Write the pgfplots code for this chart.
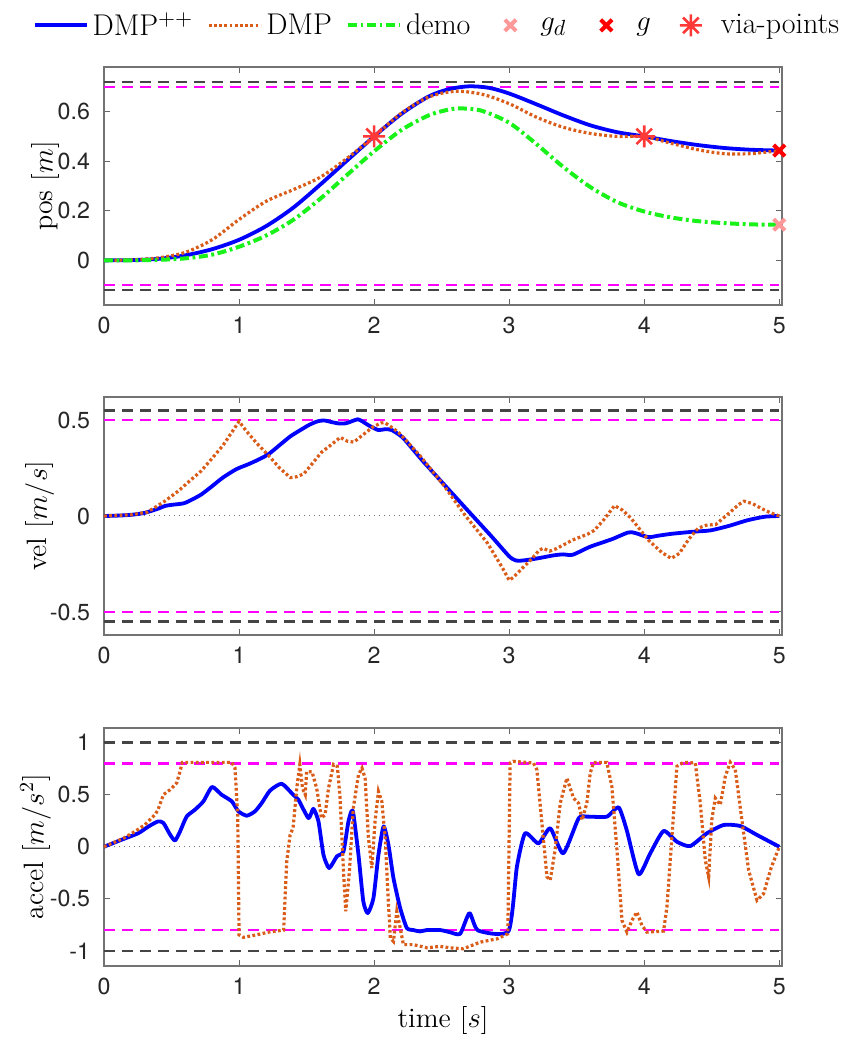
\documentclass[border=0pt]{standalone}
\usepackage{fontspec}
\newfontfamily\heros{TeX Gyre Heros}
\usepackage{pgfplots}
\pgfplotsset{compat=1.18}

\definecolor{dmpblue}{rgb}{0,0,1}
\definecolor{dmporange}{rgb}{0.85,0.36,0.1}
\definecolor{demogreen}{rgb}{0.1,0.95,0.1}
\definecolor{limgray}{rgb}{0.27,0.27,0.27}
\definecolor{limmag}{rgb}{1,0,1}
\definecolor{gdpink}{rgb}{1,0.6,0.6}
\definecolor{gred}{rgb}{1,0,0}
\definecolor{viared}{rgb}{1,0.22,0.22}

\pgfdeclareplotmark{star8}{%
  \pgfpathmoveto{\pgfqpoint{0pt}{\pgfplotmarksize}}%
  \pgfpathlineto{\pgfqpoint{0pt}{-\pgfplotmarksize}}%
  \pgfpathmoveto{\pgfqpoint{\pgfplotmarksize}{0pt}}%
  \pgfpathlineto{\pgfqpoint{-\pgfplotmarksize}{0pt}}%
  \pgfpathmoveto{\pgfqpoint{0.7071\pgfplotmarksize}{0.7071\pgfplotmarksize}}%
  \pgfpathlineto{\pgfqpoint{-0.7071\pgfplotmarksize}{-0.7071\pgfplotmarksize}}%
  \pgfpathmoveto{\pgfqpoint{0.7071\pgfplotmarksize}{-0.7071\pgfplotmarksize}}%
  \pgfpathlineto{\pgfqpoint{-0.7071\pgfplotmarksize}{0.7071\pgfplotmarksize}}%
  \pgfusepathqstroke}

\pgfplotsset{
  panel/.style={
    scale only axis, width=339pt, height=119pt,
    xmin=0, xmax=5.02,
    xtick={0,1,2,3,4,5}, xticklabels={0,1,2,3,4,5},
    tick align=inside, xtick pos=both, ytick pos=both,
    major tick length=3pt,
    axis line style={black!55, line width=0.6pt},
    every tick/.style={black!60, line width=0.5pt},
    tick label style={font=\heros\fontsize{11.6}{14}\selectfont, text=black!85},
    xticklabel style={yshift=-2.5pt},
    yticklabel style={xshift=-3.5pt},
    label style={font=\fontsize{14}{16}\selectfont},
    clip=false,
  },
  lim/.style={line width=1.1pt, dash pattern=on 5.5pt off 3.5pt},
  zero/.style={black!55, line width=0.5pt, dash pattern=on 0.5pt off 2pt},
  blu/.style={dmpblue, line width=1.9pt, line join=round},
  ora/.style={dmporange, line width=1.6pt, dash pattern=on 1.4pt off 1.2pt},
  gre/.style={demogreen, line width=2pt, dash pattern=on 4.5pt off 1.8pt on 1.4pt off 1.8pt},
  lineleg/.style={legend image code/.code={\draw[##1] (0pt,0pt) -- (26pt,0pt);}},
  markleg/.style={legend image code/.code={\path[draw=none,fill=none] (0pt,-0.5pt) rectangle (26pt,0.5pt);\draw[mark repeat=2,mark phase=2,##1] plot coordinates {(0pt,0pt) (13pt,0pt) (26pt,0pt)};}},
}

\begin{document}
\begin{tikzpicture}
\useasboundingbox (0,0) rectangle (429pt,518.5pt);

% ---------------- position ----------------
\begin{axis}[panel, at={(52pt,366pt)}, anchor=south west,
  ymin=-0.18, ymax=0.78,
  ytick={0,0.2,0.4,0.6}, yticklabels={0,0.2,0.4,0.6},
  ylabel={pos [$m$]},
  ylabel style={at={(axis description cs:-0.086,0.5)}, anchor=center},
  legend style={at={(axis description cs:0.4926,1.175)}, anchor=center,
    draw=none, fill=none, legend columns=6, inner sep=0pt,
    font=\fontsize{15}{18}\selectfont,
    /tikz/every even column/.append style={column sep=5pt}},
  legend cell align=left,
]
\addplot[limgray, lim, forget plot] coordinates {(0,0.72) (5,0.72)};
\addplot[limmag, lim, forget plot] coordinates {(0,0.70) (5,0.70)};
\addplot[limmag, lim, forget plot] coordinates {(0,-0.10) (5,-0.10)};
\addplot[limgray, lim, forget plot] coordinates {(0,-0.12) (5,-0.12)};

\addplot[blu, smooth, tension=0.5, lineleg] coordinates {
(0,0) (0.2,0.001) (0.4,0.006) (0.6,0.02) (0.8,0.045) (1.0,0.083) (1.2,0.138) (1.4,0.212) (1.6,0.305) (1.8,0.403) (2.0,0.5) (2.2,0.59) (2.4,0.66) (2.55,0.69) (2.7,0.702) (2.85,0.696) (3.0,0.673) (3.2,0.63) (3.4,0.585) (3.6,0.545) (3.8,0.517) (4.0,0.5) (4.2,0.481) (4.4,0.465) (4.6,0.453) (4.8,0.446) (5.0,0.443)};
\addlegendentry{DMP$^{++}$}

\addplot[ora, smooth, tension=0.5, lineleg] coordinates {
(0,0) (0.2,0.002) (0.4,0.01) (0.6,0.032) (0.8,0.083) (1.0,0.165) (1.2,0.238) (1.4,0.285) (1.6,0.335) (1.8,0.412) (2.0,0.5) (2.2,0.593) (2.4,0.658) (2.6,0.682) (2.8,0.67) (3.0,0.632) (3.2,0.578) (3.4,0.537) (3.6,0.512) (3.8,0.5) (4.0,0.499) (4.2,0.472) (4.4,0.446) (4.6,0.43) (4.8,0.431) (5.0,0.443)};
\addlegendentry{DMP}

\addplot[gre, smooth, tension=0.5, lineleg] coordinates {
(0,0) (0.2,0.0) (0.4,0.002) (0.6,0.008) (0.8,0.023) (1.0,0.055) (1.2,0.1) (1.4,0.163) (1.6,0.248) (1.8,0.345) (2.0,0.44) (2.2,0.525) (2.4,0.584) (2.55,0.608) (2.65,0.613) (2.8,0.603) (3.0,0.555) (3.2,0.47) (3.4,0.377) (3.6,0.296) (3.8,0.235) (4.0,0.197) (4.2,0.173) (4.4,0.158) (4.6,0.15) (4.8,0.145) (5.0,0.144)};
\addlegendentry{demo}

\addplot[only marks, mark=x, mark size=4pt, gdpink, line width=2pt, markleg] coordinates {(5,0.144)};
\addlegendentry{$g_d$}
\addplot[only marks, mark=x, mark size=4pt, gred, line width=2pt, markleg] coordinates {(5,0.443)};
\addlegendentry{$g$}
\addplot[only marks, mark=star8, mark size=5.5pt, viared, line width=1.3pt, markleg] coordinates {(2,0.5) (4,0.5)};
\addlegendentry{via-points}
\end{axis}

% ---------------- velocity ----------------
\begin{axis}[panel, at={(52pt,201pt)}, anchor=south west,
  ymin=-0.62, ymax=0.62,
  ytick={-0.5,0,0.5}, yticklabels={-0.5,0,0.5},
  ylabel={vel [$m/s$]},
  ylabel style={at={(axis description cs:-0.095,0.5)}, anchor=center},
]
\addplot[limgray, lim] coordinates {(0,0.55) (5,0.55)};
\addplot[limmag, lim] coordinates {(0,0.5) (5,0.5)};
\addplot[limmag, lim] coordinates {(0,-0.5) (5,-0.5)};
\addplot[limgray, lim] coordinates {(0,-0.55) (5,-0.55)};
\addplot[zero] coordinates {(0,0) (5,0)};

\addplot[blu, smooth, tension=0.4] coordinates {
(0,0) (0.1,0.002) (0.2,0.006) (0.3,0.016) (0.4,0.038) (0.45,0.052) (0.5,0.058) (0.59,0.066) (0.65,0.085) (0.72,0.112) (0.8,0.155) (0.88,0.2) (0.98,0.244) (1.07,0.27) (1.15,0.296) (1.22,0.323) (1.31,0.375) (1.38,0.415) (1.45,0.446) (1.52,0.475) (1.58,0.493) (1.63,0.498) (1.68,0.49) (1.74,0.482) (1.79,0.483) (1.84,0.495) (1.88,0.504) (1.92,0.49) (1.96,0.472) (2.03,0.448) (2.08,0.452) (2.13,0.448) (2.21,0.41) (2.29,0.345) (2.37,0.279) (2.54,0.147) (2.71,0.016) (2.87,-0.107) (3.0,-0.21) (3.05,-0.232) (3.1,-0.232) (3.2,-0.222) (3.33,-0.205) (3.4,-0.2) (3.47,-0.202) (3.6,-0.16) (3.76,-0.121) (3.88,-0.086) (3.93,-0.088) (4.03,-0.11) (4.1,-0.103) (4.2,-0.093) (4.36,-0.082) (4.49,-0.075) (4.63,-0.051) (4.76,-0.023) (4.89,-0.004) (5.0,0)};

\addplot[ora] coordinates {
(0,0) (0.2,0.006) (0.32,0.02) (0.45,0.077) (0.55,0.13) (0.63,0.18) (0.72,0.235) (0.8,0.3) (0.88,0.367) (0.95,0.44) (1.0,0.493) (1.05,0.446) (1.13,0.38) (1.22,0.314) (1.3,0.25) (1.38,0.2) (1.43,0.205) (1.48,0.22) (1.55,0.28) (1.61,0.332) (1.68,0.37) (1.75,0.41) (1.8,0.39) (1.85,0.385) (1.91,0.419) (1.99,0.463) (2.05,0.485) (2.08,0.486) (2.13,0.462) (2.18,0.437) (2.34,0.314) (2.51,0.165) (2.67,0.007) (2.84,-0.142) (2.95,-0.27) (3.0,-0.335) (3.03,-0.32) (3.1,-0.27) (3.17,-0.221) (3.22,-0.18) (3.25,-0.168) (3.3,-0.183) (3.35,-0.17) (3.47,-0.125) (3.58,-0.095) (3.63,-0.075) (3.7,-0.02) (3.78,0.054) (3.84,0.03) (3.9,-0.01) (4.03,-0.125) (4.13,-0.19) (4.2,-0.221) (4.26,-0.195) (4.33,-0.12) (4.4,-0.063) (4.46,-0.048) (4.53,-0.044) (4.63,0.016) (4.7,0.06) (4.74,0.077) (4.8,0.065) (4.86,0.042) (4.93,0.018) (5.0,0)};
\end{axis}

% ---------------- acceleration ----------------
\begin{axis}[panel, at={(52pt,35.5pt)}, anchor=south west,
  ymin=-1.145, ymax=1.14,
  ytick={-1,-0.5,0,0.5,1}, yticklabels={-1,-0.5,0,0.5,1},
  ylabel={accel [$m/s^2$]},
  ylabel style={at={(axis description cs:-0.101,0.5)}, anchor=center},
  xlabel={time [$s$]},
  xlabel style={at={(axis description cs:0.5,-0.23)}, anchor=center},
]
\addplot[limgray, lim] coordinates {(0,1) (5,1)};
\addplot[limmag, lim] coordinates {(0,0.8) (5,0.8)};
\addplot[limmag, lim] coordinates {(0,-0.8) (5,-0.8)};
\addplot[limgray, lim] coordinates {(0,-1) (5,-1)};
\addplot[zero] coordinates {(0,0) (5,0)};

\addplot[blu, smooth, tension=0.35] coordinates {
(0,0) (0.13,0.067) (0.254,0.13) (0.33,0.195) (0.4,0.243) (0.44,0.228) (0.49,0.115) (0.526,0.06) (0.563,0.147) (0.612,0.29) (0.674,0.356) (0.736,0.436) (0.8,0.574) (0.87,0.5) (0.946,0.436) (0.995,0.34) (1.057,0.298) (1.118,0.34) (1.168,0.42) (1.23,0.54) (1.316,0.605) (1.4,0.5) (1.44,0.45) (1.514,0.275) (1.55,0.365) (1.588,0.243) (1.625,-0.077) (1.667,-0.205) (1.724,-0.093) (1.773,-0.045) (1.81,0.243) (1.842,0.346) (1.884,-0.077) (1.92,-0.525) (1.953,-0.637) (1.995,-0.493) (2.032,-0.077) (2.07,0.195) (2.106,0.019) (2.143,-0.3) (2.193,-0.589) (2.242,-0.78) (2.29,-0.8) (2.34,-0.813) (2.39,-0.8) (2.49,-0.8) (2.56,-0.82) (2.637,-0.836) (2.706,-0.637) (2.77,-0.804) (2.995,-0.81) (3.057,-0.193) (3.118,0.129) (3.217,0.032) (3.304,0.177) (3.4,-0.064) (3.514,0.273) (3.575,0.289) (3.723,0.289) (3.81,0.379) (3.87,0.161) (3.958,-0.264) (4.044,-0.064) (4.143,0.151) (4.242,0.048) (4.34,0.006) (4.464,0.129) (4.588,0.209) (4.711,0.199) (4.835,0.113) (5.0,0)};

\addplot[ora] coordinates {
(0,0) (0.143,0.08) (0.23,0.147) (0.304,0.212) (0.378,0.308) (0.4,0.356) (0.44,0.5) (0.49,0.548) (0.538,0.612) (0.563,0.724) (0.58,0.81) (0.674,0.81) (0.8,0.81) (0.946,0.81) (0.97,0.756) (0.99,0.3) (1.0,-0.846) (1.032,-0.87) (1.13,-0.846) (1.217,-0.82) (1.33,-0.8) (1.353,-0.14) (1.378,0.115) (1.4,0.18) (1.427,0.56) (1.45,0.79) (1.47,0.56) (1.49,0.5) (1.5,0.72) (1.54,0.72) (1.575,0.56) (1.61,0.275) (1.637,0.307) (1.662,0.56) (1.7,0.79) (1.728,0.77) (1.748,0.467) (1.773,-0.237) (1.79,-0.62) (1.817,-0.237) (1.846,0.371) (1.884,0.69) (1.91,0.755) (1.933,0.66) (1.958,0.083) (1.983,-0.205) (2.007,0.243) (2.032,0.531) (2.057,0.435) (2.082,0.083) (2.1,-0.397) (2.12,-0.877) (2.143,-0.909) (2.168,-0.62) (2.193,-0.78) (2.217,-0.94) (2.29,-0.94) (2.39,-0.97) (2.49,-0.957) (2.56,-0.97) (2.66,-0.98) (2.785,-0.916) (2.91,-0.884) (2.99,-0.836) (3.007,0.804) (3.03,0.82) (3.18,0.804) (3.205,0.74) (3.24,0.257) (3.28,-0.29) (3.304,-0.32) (3.34,-0.03) (3.378,0.418) (3.427,0.659) (3.477,0.466) (3.514,0.418) (3.54,0.257) (3.575,0.418) (3.6,0.707) (3.625,0.81) (3.723,0.81) (3.76,0.579) (3.8,-0.064) (3.835,-0.707) (3.872,-0.82) (3.909,-0.707) (3.946,-0.627) (3.983,-0.756) (4.02,-0.82) (4.143,-0.81) (4.168,-0.579) (4.205,0.096) (4.242,0.772) (4.29,0.81) (4.378,0.804) (4.415,0.418) (4.452,-0.129) (4.477,-0.29) (4.5,0.257) (4.526,0.466) (4.563,0.402) (4.6,0.675) (4.637,0.81) (4.674,0.74) (4.723,0.257) (4.773,-0.225) (4.835,-0.514) (4.884,-0.45) (4.94,-0.2) (5.0,0)};
\end{axis}
\end{tikzpicture}
\end{document}
